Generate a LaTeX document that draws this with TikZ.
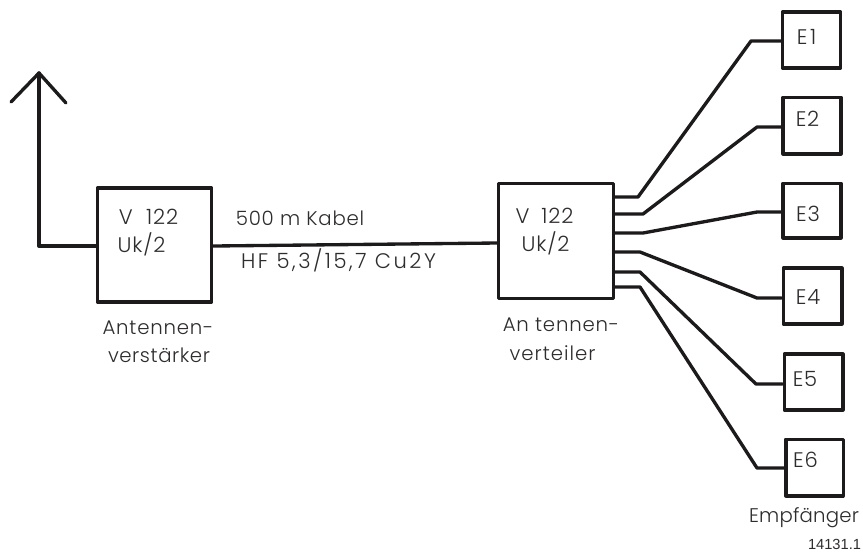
\documentclass[tikz,border=0pt]{standalone}
\usepackage{fontspec}
\setmainfont{Poppins Light}[LetterSpace=4]
\newfontfamily\numfont{Liberation Sans}
\definecolor{ink}{HTML}{1C1A1B}
\definecolor{txt}{HTML}{2E2C2D}
\newcommand{\ltr}[1]{\addfontfeature{LetterSpace=#1}}
\tikzset{
  wire/.style={draw=ink,line width=2.5pt,line join=round,line cap=round},
  ubox/.style={draw=ink,line width=2.8pt,minimum width=#1*0.75pt,minimum height=#1*0.75pt,inner sep=0pt,line join=round},
  ebox/.style={draw=ink,line width=2.5pt,inner sep=0pt,line join=round},
  lbl/.style={text=txt,font=\fontsize{14.8}{17}\selectfont,inner sep=0pt,anchor=center},
  biglbl/.style={text=txt,font=\fontsize{15.8}{18}\selectfont,inner sep=0pt,anchor=center},
}
\begin{document}
\begin{tikzpicture}[x=0.75pt,y=-0.75pt]
\useasboundingbox[fill=white] (0,0) rectangle (863,551);
% boxes
\node[ubox=114] (v) at (154.5,245) {};
\node[ubox=115] (r) at (556,241) {};
\node[ebox,minimum width=43.5pt,minimum height=42pt] (e1) at (811.5,40) {};
\node[ebox,minimum width=43.5pt,minimum height=42.5pt] (e2) at (812,125.5) {};
\node[ebox,minimum width=43.5pt,minimum height=41pt] (e3) at (812,210.5) {};
\node[ebox,minimum width=44pt,minimum height=42pt] (e4) at (812.5,296) {};
\node[ebox,minimum width=44pt,minimum height=42pt] (e5) at (813.5,382) {};
\node[ebox,minimum width=43pt,minimum height=42.5pt] (e6) at (814.5,467.5) {};
% antenna
\coordinate (foot) at (39,246);
\coordinate (tip) at (39,73);
\coordinate (al) at (11,102);
\coordinate (ar) at (66,103);
\draw[wire] (v.west |- foot) -- (foot) -- (tip);
\draw[wire] (al) -- (tip) -- (ar);
% trunk
\coordinate (t1) at (211,246);
\coordinate (t2) at (499,243);
\draw[wire] (v.east |- t1) -- (r.west |- t2);
% branches
\coordinate (a1) at (638,197); \coordinate (b1) at (751,41);
\coordinate (a2) at (643,214); \coordinate (b2) at (757,127);
\coordinate (a3) at (643,233); \coordinate (b3) at (757,212);
\coordinate (a4) at (640,252); \coordinate (b4) at (757,298);
\coordinate (a5) at (640,272); \coordinate (b5) at (756,384);
\coordinate (a6) at (640,287); \coordinate (b6) at (757,468);
\draw[wire] (r.east |- a1) -- (a1) -- (b1) -- (e1.west |- b1);
\draw[wire] (r.east |- a2) -- (a2) -- (b2) -- (e2.west |- b2);
\draw[wire] (r.east |- a3) -- (a3) -- (b3) -- (e3.west |- b3);
\draw[wire] (r.east |- a4) -- (a4) -- (b4) -- (e4.west |- b4);
\draw[wire] (r.east |- a5) -- (a5) -- (b5) -- (e5.west |- b5);
\draw[wire] (r.east |- a6) -- (a6) -- (b6) -- (e6.west |- b6);
% text
\node[biglbl] (t-a) at (148.5,217) {V\hspace{10pt}122};
\node[biglbl] (t-b) at (141.5,244) {Uk/2};
\node[lbl] (t-c) at (300,218) {500 m Kabel};
\node[biglbl] (t-d) at (338.5,260) {\ltr{12}HF 5,3/15,7 Cu2Y};
\node[lbl] (t-e) at (158,328) {Antennen-};
\node[lbl] (t-f) at (159,355) {\ltr{3}verstärker};
\node[biglbl] (t-g) at (544.5,216) {V\hspace{9pt}122};
\node[biglbl] (t-h) at (545.5,243) {Uk/2};
\node[lbl] (t-i) at (561,325) {An tennen-};
\node[lbl] (t-j) at (552.5,353) {\ltr{5}verteiler};
\node[biglbl] (l1) at (806.5,36.5) {E\hspace{2pt}1};
\node[biglbl] (l2) at (807.5,118.5) {E2};
\node[biglbl] (l3) at (808,213.5) {E3};
\node[biglbl] (l4) at (808,297) {E4};
\node[biglbl] (l5) at (805,379) {E5};
\node[biglbl] (l6) at (805.5,460) {E6};
\node[lbl] (t-k) at (804,518) {\ltr{1}Empfänger};
\node[text=txt,inner sep=0pt,font=\numfont\fontsize{11}{12}\selectfont] (t-l) at (834.5,544.5) {14131.1};
\end{tikzpicture}
\end{document}
